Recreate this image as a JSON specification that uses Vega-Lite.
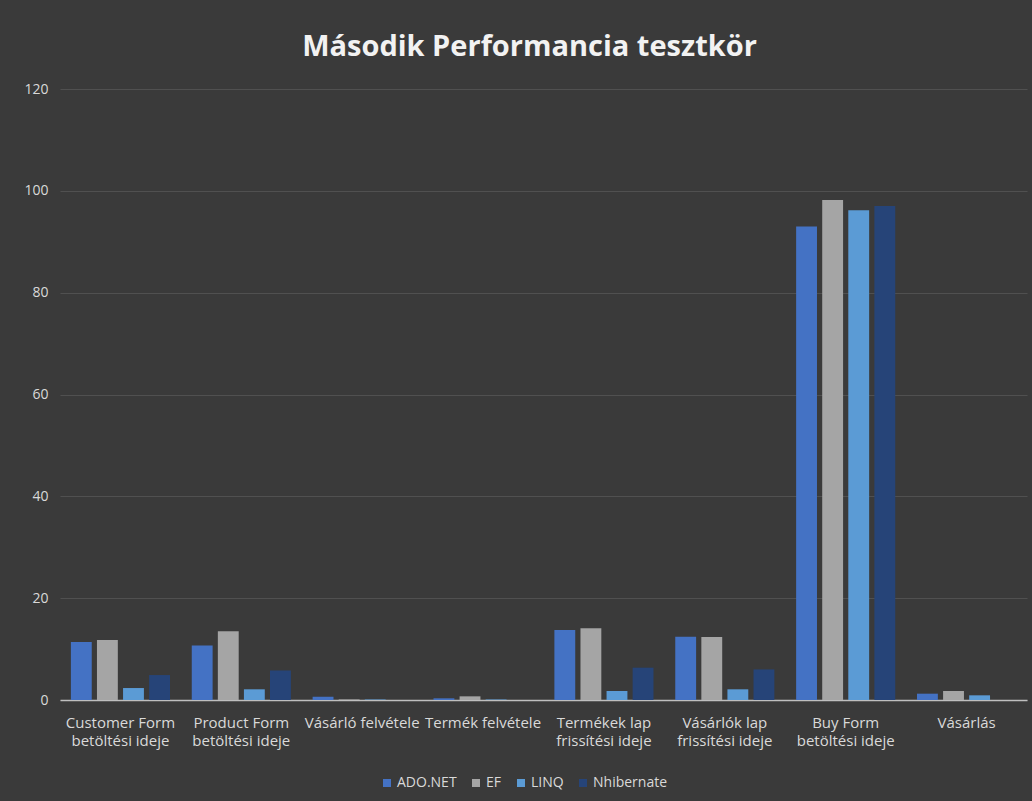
{
  "$schema": "https://vega.github.io/schema/vega-lite/v6.json",
  "width": 967,
  "height": 611,
  "padding": {"left": 23, "top": 33, "right": 7, "bottom": 14},
  "background": "#3a3a3a",
  "title": {
    "text": "Második Performancia tesztkör",
    "font": "Open Sans",
    "fontSize": 29,
    "fontWeight": "bold",
    "color": "#f2f2f2",
    "anchor": "middle",
    "dx": -14,
    "offset": 20
  },
  "data": {
    "values": [
      {"task": "Customer Form betöltési ideje", "orm": "ADO.NET", "time": 11.4},
      {"task": "Customer Form betöltési ideje", "orm": "EF", "time": 11.8},
      {"task": "Customer Form betöltési ideje", "orm": "LINQ", "time": 2.35},
      {"task": "Customer Form betöltési ideje", "orm": "Nhibernate", "time": 4.9},
      {"task": "Product Form betöltési ideje", "orm": "ADO.NET", "time": 10.7},
      {"task": "Product Form betöltési ideje", "orm": "EF", "time": 13.5},
      {"task": "Product Form betöltési ideje", "orm": "LINQ", "time": 2.1},
      {"task": "Product Form betöltési ideje", "orm": "Nhibernate", "time": 5.8},
      {"task": "Vásárló felvétele", "orm": "ADO.NET", "time": 0.65},
      {"task": "Vásárló felvétele", "orm": "EF", "time": 0.12},
      {"task": "Vásárló felvétele", "orm": "LINQ", "time": 0.1},
      {"task": "Vásárló felvétele", "orm": "Nhibernate", "time": 0},
      {"task": "Termék felvétele", "orm": "ADO.NET", "time": 0.33},
      {"task": "Termék felvétele", "orm": "EF", "time": 0.72},
      {"task": "Termék felvétele", "orm": "LINQ", "time": 0.1},
      {"task": "Termék felvétele", "orm": "Nhibernate", "time": 0},
      {"task": "Termékek lap frissítési ideje", "orm": "ADO.NET", "time": 13.75},
      {"task": "Termékek lap frissítési ideje", "orm": "EF", "time": 14.1},
      {"task": "Termékek lap frissítési ideje", "orm": "LINQ", "time": 1.77},
      {"task": "Termékek lap frissítési ideje", "orm": "Nhibernate", "time": 6.35},
      {"task": "Vásárlók lap frissítési ideje", "orm": "ADO.NET", "time": 12.4},
      {"task": "Vásárlók lap frissítési ideje", "orm": "EF", "time": 12.35},
      {"task": "Vásárlók lap frissítési ideje", "orm": "LINQ", "time": 2.1},
      {"task": "Vásárlók lap frissítési ideje", "orm": "Nhibernate", "time": 6.0},
      {"task": "Buy Form betöltési ideje", "orm": "ADO.NET", "time": 93.0},
      {"task": "Buy Form betöltési ideje", "orm": "EF", "time": 98.2},
      {"task": "Buy Form betöltési ideje", "orm": "LINQ", "time": 96.2},
      {"task": "Buy Form betöltési ideje", "orm": "Nhibernate", "time": 97.0},
      {"task": "Vásárlás", "orm": "ADO.NET", "time": 1.24},
      {"task": "Vásárlás", "orm": "EF", "time": 1.77},
      {"task": "Vásárlás", "orm": "LINQ", "time": 0.92},
      {"task": "Vásárlás", "orm": "Nhibernate", "time": 0}
    ]
  },
  "mark": {"type": "bar"},
  "encoding": {
    "x": {
      "field": "task",
      "type": "nominal",
      "sort": null,
      "scale": {"paddingInner": 0.18, "paddingOuter": 0.09},
      "axis": {
        "title": null,
        "labelAngle": 0,
        "labelFont": "Open Sans",
        "labelFontSize": 15,
        "labelColor": "#d9d9d9",
        "labelPadding": 15,
        "labelLineHeight": 18,
        "ticks": false,
        "domainColor": "#bfbfbf",
        "domainWidth": 1.5,
        "labelExpr": "indexof(datum.label, ' betöltési') > 0 ? [substring(datum.label, 0, indexof(datum.label, ' betöltési')), 'betöltési ideje'] : indexof(datum.label, ' frissítési') > 0 ? [substring(datum.label, 0, indexof(datum.label, ' frissítési')), 'frissítési ideje'] : datum.label"
      }
    },
    "xOffset": {
      "field": "orm",
      "type": "nominal",
      "scale": {"paddingInner": 0.2, "paddingOuter": 0}
    },
    "y": {
      "field": "time",
      "type": "quantitative",
      "scale": {"domain": [0, 120]},
      "axis": {
        "title": null,
        "values": [0, 20, 40, 60, 80, 100, 120],
        "domain": false,
        "ticks": false,
        "gridColor": "#505050",
        "gridWidth": 1,
        "labelFont": "Open Sans",
        "labelFontSize": 14,
        "labelColor": "#d9d9d9",
        "labelPadding": 12
      }
    },
    "color": {
      "field": "orm",
      "type": "nominal",
      "scale": {
        "domain": ["ADO.NET", "EF", "LINQ", "Nhibernate"],
        "range": ["#4472c4", "#a5a5a5", "#5b9bd5", "#264478"]
      },
      "legend": {
        "title": null,
        "orient": "none",
        "legendX": 320,
        "legendY": 687,
        "direction": "horizontal",
        "symbolType": "square",
        "symbolSize": 64,
        "symbolStrokeWidth": 0,
        "symbolOffset": 0,
        "labelFont": "Open Sans",
        "labelFontSize": 14,
        "labelOffset": 3,
        "labelColor": "#d9d9d9",
        "columnPadding": 12
      }
    }
  },
  "config": {
    "view": {"stroke": null}
  }
}
